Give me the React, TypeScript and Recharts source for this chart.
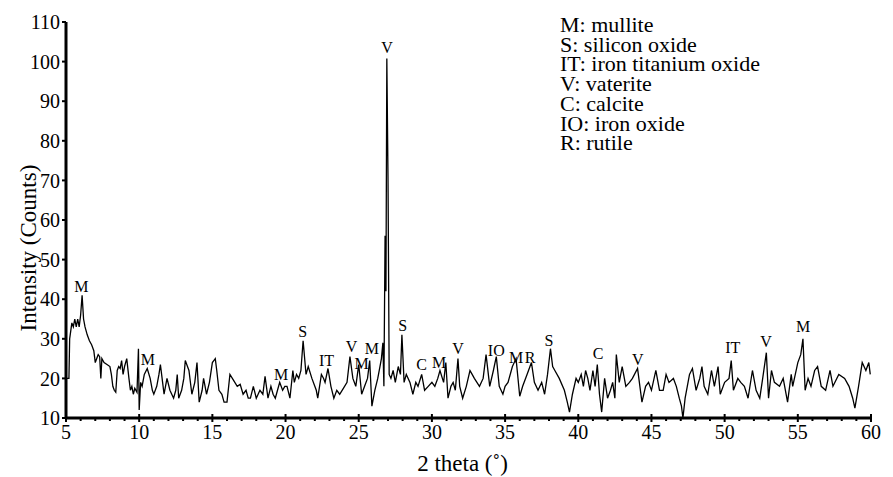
import { LineChart, Line, XAxis, YAxis, ReferenceDot } from 'recharts';

// 2 theta positions (deg) and the counts
const twoTheta = [
  5.0, 5.2, 5.25, 5.4, 5.5, 5.6, 5.7, 5.8, 5.9, 6.0, 6.1, 6.2, 6.3, 6.45, 6.6, 6.75, 6.9, 7.0, 7.1, 7.2,
  7.3, 7.38, 7.45, 7.6, 7.8, 8.0, 8.1, 8.2, 8.3, 8.4, 8.5, 8.6, 8.7, 8.8, 8.9, 9.0, 9.15, 9.3, 9.4, 9.5,
  9.6, 9.7, 9.85, 9.95, 10.0, 10.1, 10.2, 10.35, 10.55, 10.75, 10.9, 11.0, 11.2, 11.35, 11.45, 11.6, 11.7, 11.9, 12.1, 12.35,
  12.5, 12.6, 12.7, 12.9, 13.05, 13.15, 13.3, 13.4, 13.6, 13.8, 13.95, 14.1, 14.3, 14.4, 14.6, 14.8, 15.0, 15.2, 15.3, 15.45,
  15.65, 15.8, 16.0, 16.2, 16.45, 16.7, 16.9, 17.1, 17.3, 17.45, 17.6, 17.8, 18.0, 18.25, 18.45, 18.6, 18.8, 19.0, 19.15, 19.3,
  19.45, 19.6, 19.8, 19.95, 20.1, 20.3, 20.5, 20.6, 20.75, 20.9, 21.05, 21.2, 21.4, 21.55, 21.8, 22.0, 22.1, 22.2, 22.45, 22.6,
  22.7, 22.9, 23.1, 23.3, 23.5, 23.7, 23.95, 24.2, 24.4, 24.6, 24.8, 25.0, 25.2, 25.4, 25.6, 25.75, 25.9, 26.1, 26.3, 26.45,
  26.55, 26.65, 26.72, 26.8, 26.86, 26.92, 27.0, 27.08, 27.2, 27.35, 27.5, 27.7, 27.85, 27.95, 28.1, 28.25, 28.5, 28.7, 28.9, 29.05,
  29.3, 29.5, 29.75, 30.0, 30.2, 30.4, 30.55, 30.8, 30.95, 31.1, 31.3, 31.45, 31.6, 31.78, 31.9, 32.1, 32.35, 32.6, 32.75, 32.9,
  33.25, 33.5, 33.7, 33.95, 34.2, 34.4, 34.6, 34.85, 35.0, 35.2, 35.5, 35.75, 36.0, 36.2, 36.5, 36.8, 37.0, 37.25, 37.5, 37.7,
  37.9, 38.1, 38.25, 38.4, 38.7, 39.05, 39.25, 39.4, 39.6, 39.85, 40.0, 40.2, 40.35, 40.5, 40.65, 40.8, 41.0, 41.15, 41.3, 41.45,
  41.6, 41.8, 42.0, 42.2, 42.35, 42.5, 42.6, 42.8, 43.0, 43.25, 43.5, 43.7, 44.05, 44.35, 44.6, 44.8, 45.0, 45.3, 45.55, 45.8,
  46.0, 46.2, 46.5, 46.7, 46.9, 47.05, 47.15, 47.3, 47.6, 47.8, 48.05, 48.3, 48.45, 48.6, 48.85, 49.1, 49.3, 49.55, 49.7, 50.0,
  50.3, 50.45, 50.6, 50.9, 51.1, 51.35, 51.6, 51.9, 52.15, 52.4, 52.6, 52.85, 53.0, 53.2, 53.4, 53.75, 54.0, 54.3, 54.55, 54.65,
  55.0, 55.2, 55.35, 55.5, 55.7, 55.9, 56.15, 56.35, 56.6, 56.9, 57.2, 57.4, 57.8, 58.2, 58.5, 58.75, 58.9, 59.15, 59.4, 59.65,
  59.85, 59.95,
];

const counts = [
  20, 20, 30, 34, 33, 35, 33, 35, 33, 36, 41, 35, 33, 31, 29.5, 28.5, 27, 24, 25, 26,
  25.5, 20, 25, 24, 23.5, 23, 21, 18, 17, 16.5, 22, 23, 22.5, 24.5, 21, 23, 25, 20, 17, 18,
  16, 17.5, 16.5, 27.5, 12, 19, 18, 21, 22.5, 20, 17, 16, 18, 21, 23.5, 19, 16, 20, 17, 15,
  17, 21, 15, 17, 20, 24.5, 23, 22, 16, 19, 24, 14, 17, 20, 16, 19, 24, 25, 22, 17,
  16, 14, 14, 21, 19.5, 18, 18.5, 16, 17, 15, 15, 18, 15, 17, 16, 20.5, 15, 18, 16, 15,
  17, 19, 17, 18, 18, 15, 22, 19, 21, 20, 22, 29.5, 21, 23, 20, 18, 17, 15, 21, 20,
  19, 22.5, 18, 15, 17, 16, 17.5, 19, 25.5, 20, 18, 23.5, 16, 18, 20, 24.5, 13, 17, 20, 23,
  25, 29, 18, 56, 42, 100.8, 70.8, 21, 20, 22, 19, 23, 21, 31, 19, 21, 19, 16, 19, 18,
  21, 17, 18, 19, 18, 20, 22, 19, 24, 15, 18, 19, 17, 25, 18, 15, 18, 22, 21, 20,
  18, 20, 26, 18, 22, 25.5, 18, 16, 18, 19, 23, 25, 15.5, 18, 21, 24, 19, 17, 19, 16,
  21, 27.5, 23, 22, 20, 17, 14, 11.5, 16, 20, 19, 21, 18, 22, 20, 17, 22, 18, 23.5, 16,
  11.5, 20, 15, 17, 19, 15, 26, 19, 23, 18, 19, 20, 22.5, 14, 18, 19, 17, 22, 17, 17,
  21, 19, 20, 18, 15, 13, 10, 15, 21, 22.5, 17, 20, 23, 18, 16, 22, 18, 23, 16, 19,
  20, 24.5, 17, 20, 19, 18, 15, 22, 17, 15, 20, 26.5, 15, 22, 19, 18, 20, 14, 21, 18,
  24, 26, 30, 17, 20, 18, 22, 23, 18, 17, 22, 18, 21, 20, 18, 15, 12.5, 18, 24, 22,
  24, 21,
];

// phase labels above the peaks
const peakNames = ['M', 'M', 'M', 'S', 'IT', 'V', 'M', 'M', 'V', 'S', 'C', 'M', 'V', 'IO', 'M', 'R', 'S', 'C', 'V', 'IT', 'V', 'M'];
const peakTheta = [6.05, 10.6, 19.7, 21.18, 22.8, 24.5, 25.2, 25.9, 26.93, 28.0, 29.3, 30.5, 31.78, 34.4, 35.76, 36.7, 38.0, 41.36, 44.07, 50.56, 52.83, 55.36];
const peakLabelY = [41.9, 23.4, 19.6, 30.4, 23.1, 26.7, 22.4, 26.1, 102.2, 32.0, 22.1, 22.6, 26.2, 25.7, 24.0, 24.0, 28.2, 24.8, 23.4, 26.3, 28.0, 31.8];

const legendLines = [
  'M: mullite',
  'S: silicon oxide',
  'IT: iron titanium oxide',
  'V: vaterite',
  'C: calcite',
  'IO: iron oxide',
  'R: rutile',
];

const xTicks = [
  5, 6, 7, 8, 9, 10, 11, 12, 13, 14, 15, 16, 17, 18, 19, 20, 21, 22, 23, 24, 25, 26, 27, 28,
  29, 30, 31, 32, 33, 34, 35, 36, 37, 38, 39, 40, 41, 42, 43, 44, 45, 46, 47, 48, 49, 50, 51, 52,
  53, 54, 55, 56, 57, 58, 59, 60,
];
const yTicks = [10, 20, 30, 40, 50, 60, 70, 80, 90, 100, 110];

const data = twoTheta.map((t, i) => ({ theta: t, counts: counts[i] }));

const FONT = "'Liberation Serif', 'Times New Roman', Times, 'DejaVu Serif', serif";

const XTick = (props: any) => {
  const { x, y, payload } = props;
  const major = payload.value % 5 === 0;
  return (
    <g>
      <line
        x1={x}
        x2={x}
        y1={major ? y - 4 : y}
        y2={major ? y + 4 : y + 3}
        stroke="#000"
        strokeWidth={2}
      />
      {major && (
        <text x={x} y={y + 21} textAnchor="middle" fontSize={20} style={{ fontFamily: FONT }} fill="#000">
          {payload.value}
        </text>
      )}
    </g>
  );
};

export default function App() {
  return (
    <div style={{ position: 'absolute', left: 0, top: 0, width: 893, height: 477, background: '#fff', fontFamily: FONT }}>
      <LineChart
        width={893}
        height={477}
        data={data}
        margin={{ top: 22, right: 22, left: 6, bottom: 0 }}
        style={{ fontFamily: FONT }}
      >
        <XAxis
          dataKey="theta"
          type="number"
          domain={[5, 60]}
          ticks={xTicks}
          interval={0}
          height={59}
          tickLine={false}
          tickSize={0}
          tickMargin={0}
          tick={<XTick />}
          axisLine={{ stroke: '#000', strokeWidth: 3 }}
          label={{ value: '2 theta (˚)', position: 'insideBottom', offset: 6, dx: -6, fontSize: 23, fill: '#000', style: { fontFamily: FONT } }}
        />
        <YAxis
          type="number"
          domain={[10, 110]}
          ticks={yTicks}
          interval={0}
          width={60}
          tickSize={4}
          tickMargin={2}
          tickLine={{ stroke: '#000', strokeWidth: 2 }}
          tick={{ fontSize: 20, fill: '#000', style: { fontFamily: FONT } }}
          axisLine={{ stroke: '#000', strokeWidth: 3 }}
          label={{ value: 'Intensity (Counts)', angle: -90, position: 'center', dx: -8, dy: 28, fontSize: 23, fill: '#000', style: { fontFamily: FONT } }}
        />
        <Line
          type="linear"
          dataKey="counts"
          stroke="#000"
          strokeWidth={1.3}
          dot={false}
          isAnimationActive={false}
        />
        {peakNames.map((name, i) => (
          <ReferenceDot
            key={`peak-${i}`}
            x={peakTheta[i]}
            y={peakLabelY[i]}
            r={0}
            fill="none"
            stroke="none"
            label={{ value: name, position: 'top', offset: 0, fontSize: 16, fill: '#000', style: { fontFamily: FONT } }}
          />
        ))}
      </LineChart>
      <div
        style={{
          position: 'absolute',
          left: 560,
          top: 15,
          fontSize: 22,
          lineHeight: '19.7px',
          color: '#000',
          whiteSpace: 'nowrap',
        }}
      >
        {legendLines.map((l) => (
          <div key={l}>{l}</div>
        ))}
      </div>
    </div>
  );
}
